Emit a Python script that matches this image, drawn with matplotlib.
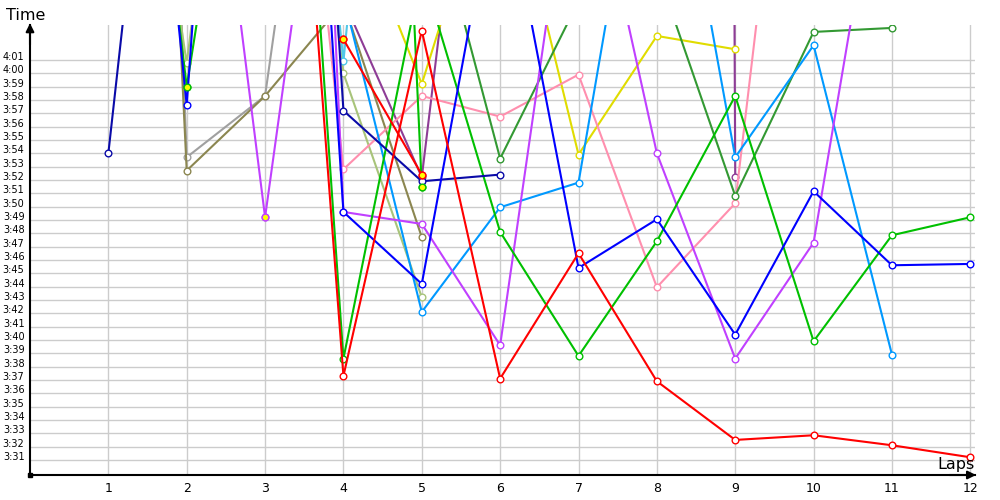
import numpy as np
import matplotlib.pyplot as plt

laps = list(range(1, 13))

# lap times per driver ("m:ss.s", None = no lap)
navy = ["3:54.0", "4:47", "5:30", "3:57.2", "3:51.9", "3:52.4", None, None, None, None, None, None]
blue = ["4:56", "3:57.6", "5:20", "3:49.6", "3:44.2", "4:16", "3:45.4", "3:49.05", "3:40.4", "3:51.15", "3:45.6", "3:45.7"]
violet1 = [None, "4:36", "3:49.2", "4:31.6", None, None, None, None, None, None, None, None]
violet2 = [None, None, "5:59", "3:49.6", "3:48.7", "3:39.6", "4:20.5", "3:54.0", "3:38.6", "3:47.3", "4:22", None]
red1 = [None, None, "4:55", "3:37.3", "4:03.2", "3:37.1", "3:46.5", "3:36.9", "3:32.5", "3:32.85", "3:32.1", "3:31.2"]
red2 = [None, None, None, "4:02.55", "3:52.4", None, None, None, None, None, None, None]
green1 = [None, None, "5:03", "3:38.6", "4:07.7", "3:48.1", "3:38.8", "3:47.4", "3:58.3", "3:39.9", "3:47.85", "3:49.2"]
green2 = ["4:48", "3:59.0", "4:36", "6:00", "3:51.5", None, None, None, None, None, None, None]
darkgreen = [None, None, None, None, "4:15.8", "3:53.6", "4:05.4", "4:07.8", "3:50.8", "4:03.1", "4:03.4", None]
lightblue = [None, None, None, "4:05.8", "3:42.1", "3:49.95", "3:51.8", "4:26", "3:53.7", "4:02.1", "3:38.9", None]
pink = [None, None, "4:48", "3:52.8", "3:58.3", "3:56.75", "3:59.9", "3:43.95", "3:50.25", "4:40", None, None]
yellow = [None, None, None, "4:14", "3:59.2", "4:18", "3:53.9", "4:02.8", "4:01.8", None, None, None]
olive = ["5:55", "3:52.7", "3:58.3", "4:05.3", "3:47.7", None, None, None, None, None, None, None]
gray = ["6:30", "3:53.7", "3:58.3", "4:40", None, None, None, None, None, None, None, None]
lightgreen = ["4:40", "4:00.75", "4:47", "4:00.0", "3:43.2", None, None, None, None, None, None, None]
cyan = [None, None, "5:00", "4:00.9", "5:00", None, None, None, None, None, None, None]
darkpurple = [None, None, None, "4:05.5", "3:52.2", "4:41", "4:40", "25:00", "3:52.2", None, None, None]

# best laps (yellow filled markers): series name -> laps
best = {"violet1": [3], "red2": [4, 5], "green2": [2, 5]}

series = [
    ("gray", gray, "#a0a0a0"),
    ("olive", olive, "#8b8650"),
    ("lightgreen", lightgreen, "#a8c47a"),
    ("cyan", cyan, "#50c8e8"),
    ("darkpurple", darkpurple, "#8e3c96"),
    ("yellow", yellow, "#e0dc00"),
    ("pink", pink, "#ff8fae"),
    ("darkgreen", darkgreen, "#339933"),
    ("lightblue", lightblue, "#0099ff"),
    ("violet1", violet1, "#c040ff"),
    ("violet2", violet2, "#c040ff"),
    ("green2", green2, "#00c000"),
    ("green1", green1, "#00c000"),
    ("navy", navy, "#0a0aa8"),
    ("blue", blue, "#0000ff"),
    ("red2", red2, "#ff0000"),
    ("red1", red1, "#ff0000"),
]


def secs(s):
    if s is None:
        return np.nan
    m, sec = s.split(':')
    return int(m) * 60 + float(sec)


fig = plt.figure(figsize=(10, 5), dpi=100)
ax = fig.add_axes([0.030, 0.05, 0.945, 0.90])

for name, vals, col in series:
    y = [secs(v) for v in vals]
    ax.plot(laps, y, color=col, lw=1.5, marker='o', ms=4.8,
            mfc='white', mec=col, mew=1.0, zorder=3)
    for lap in best.get(name, []):
        ax.plot(lap, y[lap - 1], 'o', ms=4.8, mfc='#ffff00', mec=col, mew=1.0, zorder=4)

# axes / grid
yt = list(range(211, 242))
ax.set_yticks(yt)
ax.set_yticklabels([f"{s // 60}:{s % 60:02d}" for s in yt], fontsize=7)
for lab in ax.get_yticklabels():
    lab.set_verticalalignment('baseline')
ax.set_xticks(laps)
ax.set_xticklabels([str(l) for l in laps], fontsize=9)
ax.set_xlim(0, 12.06)
ax.set_ylim(209.87, 243.62)
ax.tick_params(length=0)
ax.tick_params(axis='y', pad=4)
ax.tick_params(axis='x', pad=5)
ax.grid(True, color='#cccccc', lw=1, zorder=0)
ax.set_axisbelow(True)

for sp in ['top', 'right']:
    ax.spines[sp].set_visible(False)
for sp in ['left', 'bottom']:
    ax.spines[sp].set_linewidth(1.5)
    ax.spines[sp].set_color('black')

# arrows at axis ends
ax.annotate('', xy=(0, 1.01), xytext=(0, 0.95), xycoords='axes fraction',
            arrowprops=dict(arrowstyle='-|>', color='black', lw=1.5, mutation_scale=12))
ax.annotate('', xy=(1.004, 0), xytext=(0.97, 0), xycoords='axes fraction',
            arrowprops=dict(arrowstyle='-|>', color='black', lw=1.5, mutation_scale=12))
ax.plot(0, 209.87, 's', ms=3, color='black', clip_on=False, zorder=5)

fig.text(0.006, 0.97, 'Time', fontsize=11.5, va='center', ha='left')
fig.text(0.975, 0.072, 'Laps', fontsize=11.5, va='center', ha='right')

plt.savefig('out.png')
